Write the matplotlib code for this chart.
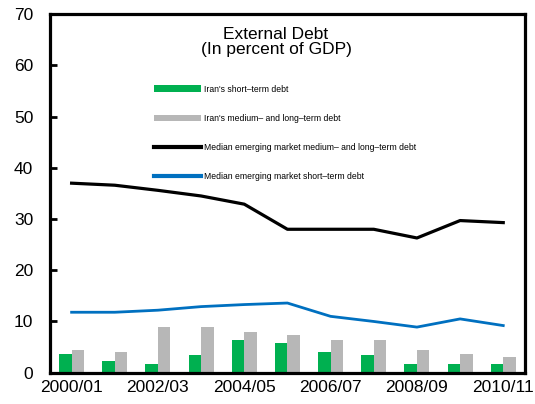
import matplotlib
matplotlib.use("Agg")
import matplotlib.pyplot as plt
from matplotlib.patches import Patch
from matplotlib.lines import Line2D
import numpy as np

plt.rcParams["font.family"] = ["Liberation Sans", "DejaVu Sans"]

# ── Data (percent of GDP) ─────────────────────────────────────────────────────
periods = ["2000/01", "2001/02", "2002/03", "2003/04", "2004/05", "2005/06",
           "2006/07", "2007/08", "2008/09", "2009/10", "2010/11"]
iran_short = [3.7, 2.3, 1.7, 3.4, 6.4, 5.7, 4.0, 3.4, 1.7, 1.7, 1.7]
iran_medlong = [4.4, 4.0, 9.0, 9.0, 8.0, 7.4, 6.4, 6.4, 4.4, 3.7, 3.0]
em_medlong = [37.0, 36.6, 35.6, 34.5, 32.9, 28.0, 28.0, 28.0, 26.3, 29.7, 29.3]
em_short = [11.8, 11.8, 12.2, 12.9, 13.3, 13.6, 11.0, 10.0, 8.9, 10.5, 9.2]

GREEN = "#00B050"
GREY = "#B7B7B7"
BLUE = "#0070C0"

fig = plt.figure(figsize=(5.35, 4.04), dpi=100)
ax = fig.add_axes([0.0935, 0.0775, 0.8875, 0.8875])

x = np.arange(len(periods))
w = 0.29
ax.bar(x - w / 2, iran_short, width=w, color=GREEN, zorder=2)
ax.bar(x + w / 2, iran_medlong, width=w, color=GREY, zorder=2)
ax.plot(x, em_medlong, color="black", lw=2.3, zorder=3)
ax.plot(x, em_short, color=BLUE, lw=2.0, zorder=3)

ax.set_xlim(-0.5, len(periods) - 0.5)
ax.set_ylim(0, 70)
ax.set_yticks(range(0, 71, 10))
ax.set_xticks(x[::2])
ax.set_xticklabels(periods[::2])
ax.tick_params(axis="y", direction="in", length=5, width=2, labelsize=12.5, pad=12)
ax.tick_params(axis="x", length=0, labelsize=12.5, pad=5)
for spine in ax.spines.values():
    spine.set_linewidth(2.3)

# chart title sits inside the frame
ax.text(0.476, 0.965, "External Debt\n(In percent of GDP)", transform=ax.transAxes,
        ha="center", va="top", fontsize=12.5, linespacing=1.05)

handles = [
    Patch(facecolor=GREEN, label="Iran's short\u2013term debt"),
    Patch(facecolor=GREY, label="Iran's medium\u2013 and long\u2013term debt"),
    Line2D([], [], color="black", lw=3, label="Median emerging market medium\u2013 and long\u2013term debt"),
    Line2D([], [], color=BLUE, lw=3, label="Median emerging market short\u2013term debt"),
]
ax.legend(handles=handles, loc="upper left", bbox_to_anchor=(0.21, 0.815),
          frameon=False, fontsize=6.2, handlelength=5.4, handleheight=0.8,
          handletextpad=0.4, labelspacing=2.35, borderpad=0)

fig.savefig("out.png", dpi=100)
